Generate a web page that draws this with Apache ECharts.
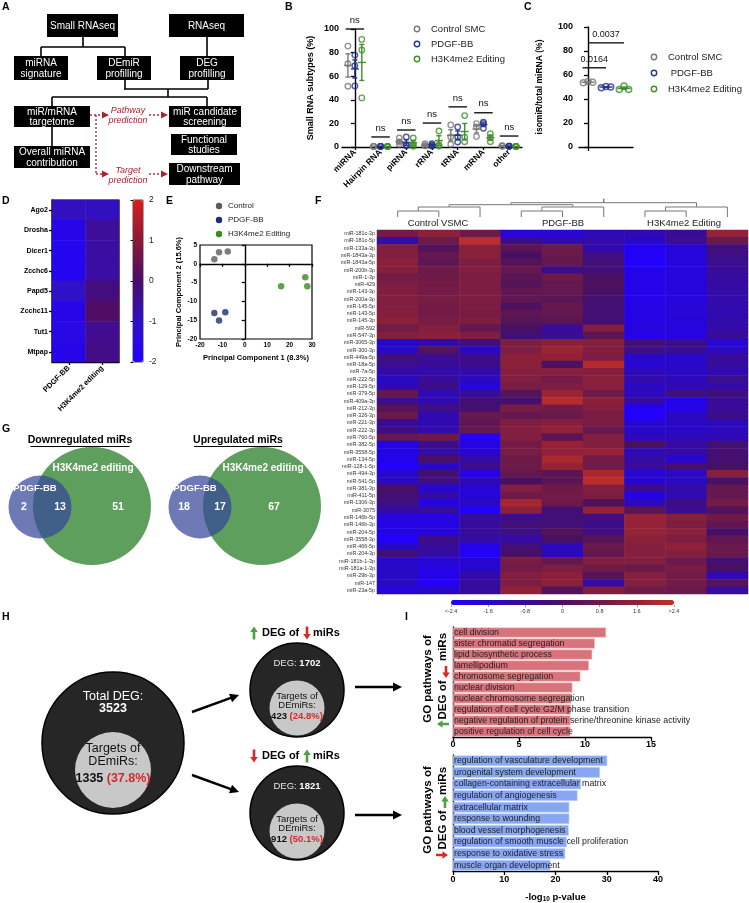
<!DOCTYPE html>
<html lang="en">
<head>
<meta charset="UTF-8">
<title>miRNA / DEG figure</title>
<script src="https://cdn.jsdelivr.net/npm/echarts@6/dist/echarts.min.js"></script>
<style>
  html, body { margin: 0; padding: 0; background: #fff; }
  #main { width: 749px; height: 903px; }
</style>
</head>
<body>
<div id="main"></div>
<script>
var FONT = '"Liberation Sans", Arial, Helvetica, sans-serif';

// B - small RNA subtypes (%)
var subtypes = ['miRNA', 'Hairpin RNA', 'piRNA', 'rRNA', 'tRNA', 'mRNA', 'other'];
var groupNames = ['Control SMC', 'PDGF-BB', 'H3K4me2 Editing'];
var ctrlB = [[85.5, 70.5, 51.5], [0.5, 0.5, 0.5], [7.6, 4.2, 2.3], [2.8, 1.0, 1.0], [18.7, 8.5, 2.3], [19.8, 17.0, 8.8], [0.8, 0.8, 0.8]];
var pdgfB = [[77.9, 68.8, 51.8], [0.5, 0.5, 0.5], [8.5, 2.0, 1.0], [2.8, 1.7, 0.8], [17.0, 8.5, 4.2], [21.0, 19.8, 15.9], [0.6, 0.6, 0.6]];
var h3kB = [[91.2, 82.2, 41.6], [0.4, 0.4, 0.4], [7.6, 2.3, 0.6], [13.6, 2.0, 0.8], [26.6, 8.2, 4.5], [11.3, 7.9, 4.5], [0.4, 0.4, 0.4]];
var nsLevelB = [100, 8.5, 14.4, 20.3, 34, 29, 9.3];

// C - isomiR / total miRNA (%)
var ctrlC = [53.6, 54.5, 53.9];
var pdgfC = [49.4, 50.5, 50.0];
var h3kC = [48.0, 50.8, 48.0];
var pBarsC = [['0.0164', -0.3, 1, 66], ['0.0037', 0, 2, 86.7]];

// D - miRNA machinery genes
var genesD = ['Ago2', 'Drosha', 'Dicer1', 'Zcchc6', 'Papd5', 'Zcchc11', 'Tut1', 'Mtpap'];
var colsD = ['PDGF-BB', 'H3K4me2 editing'];
var pdgfD = [-0.9, -1.6, -1.7, -1.7, -1.0, -1.6, -1.5, -1.6];
var h3kD = [-0.9, -0.5, -0.6, -0.6, -0.2, 0.1, -0.4, -0.3];

// E - PCA
var pcaCtrl = [[-13.6, 1.2], [-11.5, 3.1], [-7.6, 3.3]];
var pcaPdgf = [[-13.6, -13.1], [-11.5, -15.1], [-8.7, -12.9]];
var pcaH3k = [[16.2, -6.0], [27.0, -3.6], [27.9, -6.0]];

// F - DEmiR heatmap
var samplesF = ['C1', 'C2', 'C3', 'P1', 'P2', 'P3', 'H1', 'H2', 'H3'];
var mirsF = ['miR-181c-3p', 'miR-181c-5p', 'miR-133a-3p', 'miR-1843a-3p', 'miR-1843a-5p', 'miR-200b-3p', 'miR-1-3p', 'miR-429',
  'miR-143-3p', 'miR-200a-3p', 'miR-145-5p', 'miR-143-5p', 'miR-145-3p', 'miR-592', 'miR-547-3p', 'miR-3065-3p', 'miR-300-3p',
  'miR-449a-5p', 'miR-18a-5p', 'miR-7a-5p', 'miR-222-5p', 'miR-129-5p', 'miR-379-5p', 'miR-409a-3p', 'miR-212-3p', 'miR-326-3p',
  'miR-221-3p', 'miR-222-3p', 'miR-760-5p', 'miR-382-5p', 'miR-3558-5p', 'miR-134-5p', 'miR-128-1-5p', 'miR-494-3p', 'miR-541-5p',
  'miR-381-3p', 'miR-411-5p', 'miR-1306-3p', 'miR-3075', 'miR-146b-5p', 'miR-146b-3p', 'miR-204-5p', 'miR-3558-3p', 'miR-466-5p',
  'miR-204-3p', 'miR-181b-1-3p', 'miR-181a-1-3p', 'miR-29b-3p', 'miR-147', 'miR-23a-5p'];
var heatF = [
  [0.9, 1.4, 0.8, -1.8, -1.8, -1.3, -1.2, -0.8, 1.6],
  [-1.0, 0.8, 2.3, -0.6, -1.2, -1.1, -1.6, -0.7, 0.7],
  [1.2, 0.2, 1.4, 0.4, 0.8, -1.2, -2.2, -1.9, -0.4],
  [1.2, 0.6, 1.4, 0.0, 0.7, -0.5, -2.3, -1.9, -0.5],
  [1.4, 0.5, 1.1, 0.3, 0.6, -0.3, -2.4, -1.9, -0.7],
  [1.3, 0.8, 1.2, 0.6, -0.6, -0.3, -2.1, -1.9, -0.8],
  [0.9, 0.8, 1.1, 0.4, 0.8, 0.0, -2.1, -1.9, -0.9],
  [1.1, 0.9, 1.1, 0.3, 0.6, 0.1, -2.1, -1.9, -1.0],
  [1.2, 0.9, 1.1, 0.5, 0.6, 0.0, -2.1, -1.9, -1.0],
  [1.2, 1.0, 1.1, 0.5, 0.4, -0.2, -2.1, -1.9, -1.1],
  [1.2, 0.9, 1.1, 0.1, 0.6, -0.3, -2.0, -1.8, -1.1],
  [1.3, 0.9, 1.0, 0.5, 0.6, -0.2, -2.0, -1.8, -1.2],
  [1.4, 1.0, 1.1, 0.3, 0.4, -0.3, -2.0, -1.9, -1.1],
  [0.9, 1.2, 0.6, 0.0, -0.8, 1.2, -1.9, -1.9, -1.1],
  [1.2, 1.4, 1.1, -0.3, -0.7, 0.4, -2.1, -2.0, -0.8],
  [-1.6, -1.2, -0.4, 1.1, 1.4, 1.3, -0.3, -0.6, -1.8],
  [-1.6, 0.2, -1.6, 1.1, 1.7, 1.2, -0.5, -0.7, -1.5],
  [-0.4, -0.7, -0.6, 1.4, 1.5, 1.1, -1.6, -1.6, -0.8],
  [-0.7, -0.8, -0.6, 1.4, 0.1, 2.1, -1.7, -1.6, -0.9],
  [-1.0, -1.1, -1.0, 1.3, 1.3, 1.3, -1.4, -1.5, -1.2],
  [-1.5, -0.8, -1.5, 1.2, 0.9, 1.4, -1.1, -1.4, -0.7],
  [-1.3, -0.6, -1.9, 1.0, 1.1, 1.3, -1.5, -1.2, -1.0],
  [0.6, -1.3, -0.9, 0.3, 1.7, 0.8, -1.4, -0.5, -0.4],
  [-0.6, -1.2, -0.3, -0.2, 2.2, 1.4, -1.0, -2.1, -0.8],
  [0.3, -0.5, -0.2, 1.0, 0.9, 1.2, -2.2, -2.1, -0.8],
  [0.7, -1.2, 0.6, 0.6, 0.7, 1.0, -2.4, -1.5, -0.6],
  [-0.8, -1.2, 0.5, 1.1, 1.3, 1.0, -1.7, -1.5, -1.4],
  [-0.5, -1.1, 0.6, 1.2, 1.5, 0.6, -1.6, -1.6, -1.4],
  [0.6, 0.8, -2.2, 1.2, 0.4, 1.2, -1.4, -1.3, -1.3],
  [-2.0, -0.6, -2.0, 0.9, 1.6, 1.2, 0.0, -1.0, -0.3],
  [-2.0, -1.0, -1.7, 1.0, 1.5, 1.6, -1.3, -1.0, -0.2],
  [-2.1, 0.0, -1.1, 0.8, 2.0, 0.9, -1.0, -1.7, -0.2],
  [-2.3, -1.6, -0.6, 0.8, 1.6, 0.9, -0.8, -0.2, 0.0],
  [-1.7, -0.2, -2.0, 0.6, 0.4, 2.0, -1.7, -1.5, 1.3],
  [-1.5, -0.5, -1.3, 0.0, 0.4, 2.3, -1.7, -1.5, 0.0],
  [0.0, -1.7, -1.7, 1.2, 0.8, 1.2, -0.6, -1.1, 0.6],
  [-0.2, -1.1, -1.9, 0.8, 0.9, 1.1, -2.0, -1.2, 0.6],
  [-0.5, -2.0, -1.5, 1.9, 0.8, 0.1, -1.4, -0.6, 0.9],
  [-1.0, -0.9, -2.4, 1.4, -0.3, 1.6, 0.4, -0.7, 0.2],
  [-2.0, -2.0, -0.9, -0.6, -0.3, -0.4, 1.6, 1.3, 0.8],
  [-2.0, -2.0, -0.9, -0.3, -0.3, -0.6, 1.6, 1.1, 0.5],
  [-2.0, -1.9, -0.8, -0.5, 0.2, -0.4, 1.6, 1.4, -0.1],
  [-2.4, -0.6, -1.0, -1.0, 0.0, 0.3, 1.4, 1.1, 0.5],
  [-1.6, -0.8, -2.1, -0.3, -1.4, 0.7, 1.2, 1.5, 0.7],
  [-0.3, -1.0, -2.3, 0.0, -1.4, 0.6, 1.3, 1.2, 0.7],
  [-1.6, -1.8, -1.7, 1.0, 0.6, 1.2, 1.2, 0.7, -0.2],
  [-1.6, -2.0, -1.7, 0.9, 1.1, 0.8, 0.7, 1.0, 0.0],
  [-1.5, -2.1, -1.1, 1.2, 1.4, 0.3, 1.3, 0.9, -1.2],
  [-1.5, -2.3, -0.9, 1.1, 1.4, -1.0, 1.2, 0.9, 0.3],
  [-1.9, -1.6, -0.9, 1.5, 0.2, 1.2, 0.8, 0.7, -0.9]
];
// dendrogram merges: [nodeA, nodeB, height]; leaves are 0..8, new nodes numbered from 9
var dendroMerges = [[0, 1, 6], [9, 2, 10], [3, 4, 6], [11, 5, 10], [6, 7, 6], [13, 8, 10], [10, 12, 12.3], [15, 14, 14.3]];
var dendroTop = 18.3;

// G - venn counts [PDGF-BB only, shared, H3K4me2 only]
var vennDown = [2, 13, 51];
var vennUp = [18, 17, 67];

// H - DEG / target counts
var totalDEG = 3523, totalTargets = 1335, totalPct = '37.8%';
var upDEG = 1702, upTargets = 423, upPct = '24.8%';
var downDEG = 1821, downTargets = 912, downPct = '50.1%';

// I - GO pathways
var goUpLabels = ['cell division', 'sister chromatid segregation', 'lipid biosynthetic process', 'lamellipodium',
  'chromosome segregation', 'nuclear division', 'nuclear chromosome segregation',
  'regulation of cell cycle G2/M phase transition', 'negative regulation of protein serine/threonine kinase activity',
  'positive regulation of cell cycle'];
var goUpVals = [11.6, 10.75, 10.55, 10.3, 9.65, 9.05, 8.98, 8.93, 8.9, 8.9];
var goDownLabels = ['regulation of vasculature development', 'urogenital system development',
  'collagen-containing extracellular matrix', 'regulation of angiogenesis', 'extracellular matrix',
  'response to wounding', 'blood vessel morphogenesis', 'regulation of smooth muscle cell proliferation',
  'response to oxidative stress', 'muscle organ development'];
var goDownVals = [30.1, 28.7, 25.0, 24.3, 22.7, 22.7, 22.6, 22.2, 21.9, 19.0];

var colorsB = ['#7a7a7a', '#26358c', '#3e8e2a'];
var colorsE = ['#5c5c5c', '#1f2c78', '#3b8a1d'];
var RED = '#a8232d';
var UPG = '#4ca046', DNR = '#d42a2a';

// ---------- helpers ----------
function T(x, y, s, size, o) {
  o = o || {};
  return {
    type: 'text', x: x, y: y, rotation: o.rot || 0, silent: true, z: o.z || 10,
    style: {
      text: s, fontFamily: FONT, fontSize: size,
      fontWeight: o.bold ? 'bold' : 'normal', fontStyle: o.italic ? 'italic' : 'normal',
      fill: o.color || '#000', align: o.align || 'center', verticalAlign: o.va || 'middle',
      lineHeight: o.lh || Math.round(size * 1.1), rich: o.rich
    }
  };
}
function L(x1, y1, x2, y2, c, w, dash) {
  return { type: 'line', silent: true, z: 5, shape: { x1: x1, y1: y1, x2: x2, y2: y2 },
    style: { stroke: c || '#000', lineWidth: w || 1.5, lineDash: dash || null } };
}
function R(x, y, w, h, fill) {
  return { type: 'rect', silent: true, z: 4, shape: { x: x, y: y, width: w, height: h }, style: { fill: fill } };
}
function C(cx, cy, r, fill, stroke, lw, op) {
  return { type: 'circle', silent: true, z: 4, shape: { cx: cx, cy: cy, r: r },
    style: { fill: fill, stroke: stroke || null, lineWidth: lw || 0, opacity: op == null ? 1 : op } };
}
function head(x, y, ang, len, w, color) {
  var bx = x - len * Math.cos(ang), by = y - len * Math.sin(ang);
  var px = -Math.sin(ang) * w / 2, py = Math.cos(ang) * w / 2;
  return { type: 'polygon', silent: true, z: 6, shape: { points: [[x, y], [bx + px, by + py], [bx - px, by - py]] }, style: { fill: color } };
}
function arrow(x1, y1, x2, y2, color, w, hl, hw) {
  var ang = Math.atan2(y2 - y1, x2 - x1);
  return [L(x1, y1, x2 - hl * 0.8 * Math.cos(ang), y2 - hl * 0.8 * Math.sin(ang), color, w), head(x2, y2, ang, hl, hw, color)];
}
// thick block arrow centred on (cx, cy), pointing along ang
function blockArrow(cx, cy, ang, color, len) {
  len = len || 13;
  var hl = 5.5, hw = 7.5, sw = 2.6, h = len / 2;
  var pts = [[-h, -sw / 2], [h - hl, -sw / 2], [h - hl, -hw / 2], [h, 0], [h - hl, hw / 2], [h - hl, sw / 2], [-h, sw / 2]];
  var c = Math.cos(ang), s = Math.sin(ang);
  return { type: 'polygon', silent: true, z: 7,
    shape: { points: pts.map(function (p) { return [cx + p[0] * c - p[1] * s, cy + p[0] * s + p[1] * c]; }) },
    style: { fill: color } };
}
var UP = -Math.PI / 2, DOWN = Math.PI / 2, LEFT = Math.PI, RIGHT = 0;
function mean(a) { return a.reduce(function (s, v) { return s + v; }, 0) / a.length; }
function sem(a) {
  var m = mean(a);
  var v = a.reduce(function (s, x) { return s + (x - m) * (x - m); }, 0) / (a.length - 1);
  return Math.sqrt(v / a.length);
}

var G = [];

// panel letters
[['A', 2, 1], ['B', 285, 1], ['C', 524, 1], ['D', 2, 195], ['E', 166, 195], ['F', 315, 195], ['G', 2, 423], ['H', 2, 611], ['I', 405, 611]]
  .forEach(function (p) { G.push(T(p[1], p[2], p[0], 10.5, { bold: true, align: 'left', va: 'top' })); });

// ---------- A: workflow ----------
var boxesA = [
  [47, 14, 71, 23, 'Small RNAseq'], [169, 14, 75, 23, 'RNAseq'],
  [14, 56, 54, 24, 'miRNA\nsignature'], [97, 56, 54, 24, 'DEmiR\nprofilling'], [180, 56, 54, 24, 'DEG\nprofilling'],
  [14, 106, 76, 21, 'miR/mRNA\ntargetome'], [169, 106, 72, 21, 'miR candidate\nscreening'],
  [14, 146, 76, 22, 'Overall miRNA\ncontribution'], [171, 134, 66, 21, 'Functional\nstudies'],
  [169, 163, 71, 22, 'Downstream\npathway']
];
boxesA.forEach(function (b) {
  G.push(R(b[0], b[1], b[2], b[3], '#000'));
  G.push(T(b[0] + b[2] / 2, b[1] + b[3] / 2 + 0.5, b[4], 10, { color: '#fff', lh: 10.5 }));
});
[[83, 37, 83, 47], [41, 47, 125, 47], [41, 47, 41, 56], [125, 47, 125, 56], [207, 37, 207, 56],
 [125, 80, 125, 89], [124, 89, 208, 89], [208, 80, 208, 89], [168, 89, 168, 97], [52, 97, 207, 97],
 [52, 97, 52, 106], [207, 97, 207, 106], [52, 127, 52, 146]].forEach(function (l) {
  G.push(L(l[0], l[1], l[2], l[3], '#000', 1.6));
});
var dashA = [2, 2];
G.push(L(90, 115, 103, 115, RED, 1.4, dashA), head(109, 115, 0, 7, 7, RED));
G.push(L(96, 115, 96, 174, RED, 1.4, dashA), L(96, 174, 103, 174, RED, 1.4, dashA), head(109, 174, 0, 7, 7, RED));
G.push(L(149, 115, 162, 115, RED, 1.4, dashA), head(168, 115, 0, 7, 7, RED));
G.push(L(149, 174, 162, 174, RED, 1.4, dashA), head(168, 174, 0, 7, 7, RED));
G.push(T(128, 115.5, 'Pathway\nprediction', 9, { italic: true, color: RED, lh: 9.5 }));
G.push(T(128, 175.5, 'Target\nprediction', 9, { italic: true, color: RED, lh: 9.5 }));

// ---------- B & C legends ----------
groupNames.forEach(function (n, g) {
  G.push(C(417, 29 + g * 15, 2.7, 'none', colorsB[g], 1.4));
  G.push(T(431, 29 + g * 15, n, 9.5, { align: 'left', color: '#222' }));
});
['Control SMC', ' PDGF-BB', 'H3K4me2 Editing'].forEach(function (n, g) {
  G.push(C(654, 57 + g * 16, 2.7, 'none', colorsB[g], 1.4));
  G.push(T(668, 57 + g * 16, n, 9.5, { align: 'left', color: '#222' }));
});

// ---------- E legend ----------
['Control', 'PDGF-BB', 'H3K4me2 Editing'].forEach(function (n, g) {
  G.push(C(219, 206 + g * 14, 3.2, colorsE[g]));
  G.push(T(228, 206 + g * 14, n, 8, { align: 'left', color: '#222' }));
});

// ---------- F headers ----------
G.push(T(438, 223, 'Control VSMC', 9.5, { color: '#222' }));
G.push(T(563, 223, 'PDGF-BB', 9.5, { color: '#222' }));
G.push(T(684, 223, 'H3K4me2 Editing', 9.5, { color: '#222' }));

// ---------- G: venn diagrams ----------
function venn(tx, gx, bx, nx, title, counts) {
  G.push(T(tx, 440, title, 10.5, { bold: true }));
  var tw = title.length * 5.5;
  G.push(L(tx - tw / 2, 446.5, tx + tw / 2, 446.5, '#000', 1));
  G.push(C(gx, 506, 59, '#5e9f5e'));
  G.push(C(bx, 507, 31.5, '#34479a', null, 0, 0.72));
  G.push(T(gx + 1, 468, 'H3K4me2 editing', 10, { bold: true, color: '#fff' }));
  G.push(T(bx - 5, 488, 'PDGF-BB', 9.5, { bold: true, color: '#fff' }));
  G.push(T(bx - 16, 507, String(counts[0]), 10.5, { bold: true, color: '#fff' }));
  G.push(T(bx + 20, 507, String(counts[1]), 10.5, { bold: true, color: '#fff' }));
  G.push(T(nx, 507, String(counts[2]), 10.5, { bold: true, color: '#fff' }));
}
venn(80, 92, 40, 118, 'Downregulated miRs', vennDown);
venn(238, 262, 200, 274, 'Upregulated miRs', vennUp);

// ---------- H: DEG circles ----------
var pctRich = {
  n: { fontFamily: FONT, fontSize: 12.5, fontWeight: 'bold', fill: '#111' },
  r: { fontFamily: FONT, fontSize: 12.5, fontWeight: 'bold', fill: DNR },
  ns: { fontFamily: FONT, fontSize: 9.5, fontWeight: 'bold', fill: '#111' },
  rs: { fontFamily: FONT, fontSize: 9.5, fontWeight: 'bold', fill: DNR },
  w: { fontFamily: FONT, fontSize: 9.5, fill: '#e6e6e6' },
  wb: { fontFamily: FONT, fontSize: 9.5, fontWeight: 'bold', fill: '#fff' }
};
G.push(C(113, 743, 71, '#262626', '#000', 1.5));
G.push(C(113, 770, 38, '#c8c8c8'));
G.push(T(113, 697, 'Total DEG:', 12.5, { color: '#fff' }));
G.push(T(113, 709, String(totalDEG), 12.5, { color: '#fff', bold: true }));
G.push(T(113, 755, 'Targets of\nDEmiRs:', 12.5, { color: '#111', lh: 12.5 }));
G.push(T(113, 779, '{n|' + totalTargets + '} {r|(' + totalPct + ')}', 12.5, { rich: pctRich }));

function smallDEG(cy, up, deg, tg, pct) {
  var ty = cy - 57;
  G.push(blockArrow(254, ty, up ? UP : DOWN, up ? UPG : DNR));
  G.push(T(262, ty, 'DEG of', 11, { bold: true, align: 'left' }));
  G.push(blockArrow(307, ty, up ? DOWN : UP, up ? DNR : UPG));
  G.push(T(313, ty, 'miRs', 11, { bold: true, align: 'left' }));
  G.push(C(297, cy, 47, '#262626', '#000', 1.5));
  G.push(C(297, cy + 18, 27.5, '#c8c8c8'));
  G.push(T(297, cy - 27, '{w|DEG: }{wb|' + deg + '}', 9.5, { rich: pctRich }));
  G.push(T(297, cy + 11, 'Targets of\nDEmiRs:', 9.5, { color: '#111', lh: 9.5 }));
  G.push(T(297, cy + 26, '{ns|' + tg + '} {rs|(' + pct + ')}', 9.5, { rich: pctRich }));
}
smallDEG(690, true, upDEG, upTargets, upPct);
smallDEG(813, false, downDEG, downTargets, downPct);
G.push.apply(G, arrow(192, 712, 239, 695, '#000', 2.4, 9, 9));
G.push.apply(G, arrow(192, 775, 239, 792, '#000', 2.4, 9, 9));
G.push.apply(G, arrow(355, 687, 402, 687, '#000', 2.4, 9, 9));
G.push.apply(G, arrow(355, 815, 402, 815, '#000', 2.4, 9, 9));

// ---------- I: rotated titles ----------
var ROT = Math.PI / 2;
G.push(T(428, 679, 'GO pathways of', 11.5, { bold: true, rot: ROT }));
G.push(T(443, 700, 'DEG of', 11.5, { bold: true, rot: ROT }));
G.push(T(443, 647, 'miRs', 11.5, { bold: true, rot: ROT }));
G.push(blockArrow(443, 724, LEFT, UPG, 12));
G.push(blockArrow(446, 672, DOWN, DNR, 12));
G.push(T(428, 810, 'GO pathways of', 11.5, { bold: true, rot: ROT }));
G.push(T(443, 830, 'DEG of', 11.5, { bold: true, rot: ROT }));
G.push(T(443, 781, 'miRs', 11.5, { bold: true, rot: ROT }));
G.push(blockArrow(445, 802, UP, UPG, 12));
G.push(blockArrow(442, 855, RIGHT, DNR, 12));

// ---------- series ----------
var S = [];
var offB = [-0.27, 0, 0.27];
var setsB = [ctrlB, pdgfB, h3kB];

function errRender(half, cap) {
  return function (params, api) {
    var c = api.coord([api.value(0), api.value(1)]);
    var lo = api.coord([api.value(0), api.value(2)]);
    var hi = api.coord([api.value(0), api.value(3)]);
    var st = { stroke: api.visual('color'), lineWidth: 1.4, fill: null };
    return { type: 'group', children: [
      { type: 'line', shape: { x1: c[0] - half, y1: c[1], x2: c[0] + half, y2: c[1] }, style: st },
      { type: 'line', shape: { x1: lo[0], y1: lo[1], x2: hi[0], y2: hi[1] }, style: st },
      { type: 'line', shape: { x1: lo[0] - cap, y1: lo[1], x2: lo[0] + cap, y2: lo[1] }, style: st },
      { type: 'line', shape: { x1: hi[0] - cap, y1: hi[1], x2: hi[0] + cap, y2: hi[1] }, style: st }
    ] };
  };
}

setsB.forEach(function (set, g) {
  var pts = [];
  set.forEach(function (vals, i) { vals.forEach(function (v) { pts.push([i + offB[g], v]); }); });
  S.push({ type: 'scatter', name: groupNames[g], xAxisIndex: 1, yAxisIndex: 0, data: pts, symbol: 'circle', symbolSize: 5.5,
    itemStyle: { color: 'rgba(255,255,255,0)', borderColor: colorsB[g], borderWidth: 1.4 }, z: 3 });
});
setsB.forEach(function (set, g) {
  S.push({ type: 'custom', name: 'errB' + g, xAxisIndex: 1, yAxisIndex: 0, itemStyle: { color: colorsB[g] }, z: 4,
    renderItem: errRender(4, 2.5), encode: { x: 0, y: [1, 2, 3] },
    data: set.map(function (vals, i) { var m = mean(vals), e = sem(vals); return [i + offB[g], m, m - e, m + e]; }) });
});
S.push({ type: 'custom', name: 'nsB', xAxisIndex: 1, yAxisIndex: 0, z: 5, encode: { x: 0, y: 1 },
  data: nsLevelB.map(function (l, i) { return [i, l]; }),
  renderItem: function (params, api) {
    var a = api.coord([api.value(0) - 0.36, api.value(1)]), b = api.coord([api.value(0) + 0.36, api.value(1)]);
    return { type: 'group', children: [
      { type: 'line', shape: { x1: a[0], y1: a[1], x2: b[0], y2: b[1] }, style: { stroke: '#000', lineWidth: 1.3 } },
      { type: 'text', style: { text: 'ns', x: (a[0] + b[0]) / 2, y: a[1] - 9, align: 'center', verticalAlign: 'middle',
        fontFamily: FONT, fontSize: 9.5, fill: '#111' } }
    ] };
  } });

var jitterC = [-0.26, 0, 0.26];
var setsC = [ctrlC, pdgfC, h3kC];
setsC.forEach(function (set, g) {
  S.push({ type: 'scatter', name: 'C' + g, xAxisIndex: 3, yAxisIndex: 1, symbol: 'circle', symbolSize: 6, z: 3,
    itemStyle: { color: 'rgba(255,255,255,0)', borderColor: colorsB[g], borderWidth: 1.5 },
    data: set.map(function (v, k) { return [g + jitterC[k], v]; }) });
  S.push({ type: 'custom', name: 'errC' + g, xAxisIndex: 3, yAxisIndex: 1, itemStyle: { color: colorsB[g] }, z: 4,
    renderItem: errRender(6.5, 3), encode: { x: 0, y: [1, 2, 3] },
    data: [[g, mean(set), mean(set) - sem(set), mean(set) + sem(set)]] });
});
S.push({ type: 'custom', name: 'pC', xAxisIndex: 3, yAxisIndex: 1, z: 5, encode: { x: [0, 1], y: 2 },
  data: pBarsC.map(function (p) { return [p[1], p[2], p[3]]; }),
  renderItem: function (params, api) {
    var a = api.coord([api.value(0), api.value(2)]), b = api.coord([api.value(1), api.value(2)]);
    return { type: 'group', children: [
      { type: 'line', shape: { x1: a[0], y1: a[1], x2: b[0], y2: b[1] }, style: { stroke: '#000', lineWidth: 1.3 } },
      { type: 'text', style: { text: pBarsC[params.dataIndex][0], x: (a[0] + b[0]) / 2, y: a[1] - 8, align: 'center',
        verticalAlign: 'middle', fontFamily: FONT, fontSize: 9, fill: '#111' } }
    ] };
  } });

var dataD = [];
genesD.forEach(function (g, r) { dataD.push([0, r, pdgfD[r]], [1, r, h3kD[r]]); });
var idxD = S.length;
S.push({ type: 'heatmap', name: 'heatD', xAxisIndex: 4, yAxisIndex: 2, data: dataD, emphasis: { disabled: true } });

[pcaCtrl, pcaPdgf, pcaH3k].forEach(function (set, g) {
  S.push({ type: 'scatter', name: 'E' + g, xAxisIndex: 6, yAxisIndex: 4, data: set, symbolSize: 6.5,
    itemStyle: { color: colorsE[g] } });
});

// dendrogram from merges
var nodeX = samplesF.map(function (s, i) { return i; });
var nodeH = samplesF.map(function () { return 0; });
var dendroData = [];
dendroMerges.forEach(function (m) {
  dendroData.push([nodeX[m[0]], nodeX[m[1]], m[2], nodeH[m[0]], nodeH[m[1]]]);
  nodeX.push((nodeX[m[0]] + nodeX[m[1]]) / 2);
  nodeH.push(m[2]);
});
var rootN = nodeX.length - 1;
dendroData.push([nodeX[rootN], nodeX[rootN], dendroTop, nodeH[rootN], nodeH[rootN]]);
S.push({ type: 'custom', name: 'dendro', xAxisIndex: 7, yAxisIndex: 5, data: dendroData, encode: { x: [0, 1], y: [2, 3, 4] },
  renderItem: function (params, api) {
    var p1 = api.coord([api.value(0), api.value(3)]), p2 = api.coord([api.value(0), api.value(2)]);
    var p3 = api.coord([api.value(1), api.value(2)]), p4 = api.coord([api.value(1), api.value(4)]);
    return { type: 'polyline', shape: { points: [p1, p2, p3, p4] }, style: { stroke: '#777', lineWidth: 1, fill: null } };
  } });

var dataF = [];
heatF.forEach(function (row, r) { row.forEach(function (v, c) { dataF.push([c, r, v]); }); });
var idxF = S.length;
S.push({ type: 'heatmap', name: 'heatF', xAxisIndex: 8, yAxisIndex: 6, data: dataF, emphasis: { disabled: true } });

var barLabel = { show: true, position: 'insideLeft', distance: 1, formatter: '{b}', fontFamily: FONT, fontSize: 8.8, color: '#222' };
S.push({ type: 'bar', name: 'goUp', xAxisIndex: 10, yAxisIndex: 8, data: goUpVals, barCategoryGap: '8%',
  itemStyle: { color: '#d9737b', borderColor: '#f2c6c8', borderWidth: 0.6 }, label: barLabel });
S.push({ type: 'bar', name: 'goDown', xAxisIndex: 11, yAxisIndex: 9, data: goDownVals, barCategoryGap: '8%',
  itemStyle: { color: '#88a7f3', borderColor: '#c9d7fa', borderWidth: 0.6 }, label: barLabel });

// ---------- axes ----------
var AL = { show: true, lineStyle: { color: '#000', width: 1.4 } };
function TK(len, inside) { return { show: true, length: len, inside: !!inside, alignWithLabel: true, lineStyle: { color: '#000', width: 1.3 } }; }
var NOSPLIT = { show: false };
function LB(size, bold, extra) {
  var o = { fontFamily: FONT, fontSize: size, fontWeight: bold ? 'bold' : 'normal', color: '#000' };
  for (var k in extra) o[k] = extra[k];
  return o;
}
var HID = function (grid, type, mn, mx, data) {
  return { gridIndex: grid, type: type, min: mn, max: mx, data: data, show: false, splitLine: NOSPLIT };
};

var xAxes = [
  { gridIndex: 0, type: 'category', data: subtypes, axisLine: AL, axisTick: TK(3), splitLine: NOSPLIT,
    axisLabel: LB(8.5, true, { rotate: 45, interval: 0, margin: 4 }) },
  HID(0, 'value', -0.5, 6.5),
  { gridIndex: 1, type: 'category', data: groupNames, axisLine: AL, axisTick: TK(4), splitLine: NOSPLIT, axisLabel: { show: false } },
  HID(1, 'value', -0.5, 2.5),
  { gridIndex: 2, type: 'category', data: colsD, axisLine: AL, axisTick: TK(3), splitLine: NOSPLIT,
    axisLabel: LB(7.5, true, { rotate: 45, interval: 0, margin: 5 }) },
  HID(3, 'value', 0, 1),
  { gridIndex: 4, type: 'value', min: -20, max: 30, interval: 10, axisLine: AL, axisTick: TK(3), splitLine: NOSPLIT,
    axisLabel: LB(6.5, true, { margin: 3 }), name: 'Principal Component 1 (8.3%)', nameLocation: 'middle', nameGap: 15,
    nameTextStyle: LB(7.5, true) },
  HID(5, 'value', -0.5, 8.5),
  HID(6, 'category', null, null, samplesF),
  { gridIndex: 7, type: 'value', min: -2.4, max: 2.4, interval: 0.8, axisLine: { show: false }, splitLine: NOSPLIT,
    axisTick: { show: true, length: 2, lineStyle: { color: '#555', width: 0.6 } },
    axisLabel: LB(5.5, false, { margin: 3, color: '#333', formatter: function (v) {
      if (v <= -2.39) return '<-2.4'; if (v >= 2.39) return '>2.4'; return String(Math.round(v * 10) / 10);
    } }) },
  { gridIndex: 8, type: 'value', min: 0, max: 15, interval: 5, axisLine: AL, axisTick: TK(4), splitLine: NOSPLIT,
    axisLabel: LB(9, true, { margin: 3 }) },
  { gridIndex: 9, type: 'value', min: 0, max: 40, interval: 10, axisLine: AL, axisTick: TK(4), splitLine: NOSPLIT,
    axisLabel: LB(9, true, { margin: 4 }), name: '-log{s|10} p-value', nameLocation: 'middle', nameGap: 20,
    nameTextStyle: { fontFamily: FONT, fontSize: 9.5, fontWeight: 'bold', color: '#000',
      rich: { s: { fontFamily: FONT, fontSize: 6.5, fontWeight: 'bold', color: '#000', padding: [5, 0, 0, 0] } } } }
];

var yAxes = [
  { gridIndex: 0, type: 'value', min: 0, max: 100, interval: 20, axisLine: AL, axisTick: TK(4), splitLine: NOSPLIT,
    axisLabel: LB(9, true, { margin: 3 }), name: 'Small RNA subtypes (%)', nameLocation: 'middle', nameGap: 27,
    nameTextStyle: LB(9, true) },
  { gridIndex: 1, type: 'value', min: 0, max: 100, interval: 20, offset: 3, axisLine: AL, axisTick: TK(4), splitLine: NOSPLIT,
    axisLabel: LB(9, true, { margin: 3 }), name: 'isomiR/total miRNA (%)', nameLocation: 'middle', nameGap: 32,
    nameTextStyle: LB(8.5, true) },
  { gridIndex: 2, type: 'category', data: genesD, inverse: true, axisLine: AL, axisTick: TK(3), splitLine: NOSPLIT,
    axisLabel: LB(7, true, { margin: 4, interval: 0 }) },
  { gridIndex: 3, type: 'value', min: -2, max: 2, interval: 1, position: 'right', axisLine: { show: false },
    axisTick: { show: true, inside: true, length: 2.5, lineStyle: { color: '#000', width: 1 } }, splitLine: NOSPLIT,
    axisLabel: LB(8.5, false, { margin: 6, color: '#222' }) },
  { gridIndex: 4, type: 'value', min: -20, max: 5, interval: 5, axisLine: AL, axisTick: TK(3), splitLine: NOSPLIT,
    axisLabel: LB(6.5, true, { margin: 3 }), name: 'Principal Component 2 (15.6%)', nameLocation: 'middle', nameGap: 17,
    nameTextStyle: LB(7.5, true) },
  HID(5, 'value', 0, 21),
  { gridIndex: 6, type: 'category', data: mirsF, inverse: true, axisLine: { show: false }, axisTick: { show: false },
    splitLine: NOSPLIT, axisLabel: LB(5.4, false, { margin: 2, interval: 0, color: '#333' }) },
  HID(7, 'value', 0, 1),
  { gridIndex: 8, type: 'category', data: goUpLabels, inverse: true, axisLine: AL, axisTick: { show: false },
    axisLabel: { show: false }, splitLine: NOSPLIT },
  { gridIndex: 9, type: 'category', data: goDownLabels, inverse: true, axisLine: AL, axisTick: { show: false },
    axisLabel: { show: false }, splitLine: NOSPLIT }
];

var grids = [
  { left: 342, top: 29, width: 180, height: 118 },
  { left: 579, top: 27, width: 54, height: 120 },
  { left: 52, top: 200, width: 67, height: 162, show: true, borderColor: '#000', borderWidth: 1.2 },
  { left: 133, top: 200, width: 10, height: 162, show: true, borderColor: '#222', borderWidth: 0.8 },
  { left: 200, top: 245, width: 112, height: 94, show: true, borderColor: '#000', borderWidth: 1.2 },
  { left: 377, top: 196, width: 371, height: 21 },
  { left: 377, top: 230, width: 371, height: 364 },
  { left: 451, top: 600, width: 223, height: 5 },
  { left: 453, top: 627, width: 198, height: 110 },
  { left: 453, top: 755, width: 205, height: 116 }
];
grids.forEach(function (g) { g.containLabel = false; g.outerBoundsMode = 'none'; });

var chart = echarts.init(document.getElementById('main'));
chart.setOption({
  animation: false,
  backgroundColor: '#fff',
  textStyle: { fontFamily: FONT },
  tooltip: { show: false },
  grid: grids,
  xAxis: xAxes,
  yAxis: yAxes,
  visualMap: [
    { type: 'continuous', seriesIndex: idxD, min: -2, max: 2, orient: 'vertical', left: 133, top: 200,
      itemWidth: 10, itemHeight: 162, padding: 0, calculable: false, hoverLink: false, text: null,
      inRange: { color: ['#2000ff', '#3010c8', '#4a0b6a', '#8c1838', '#d61f1c'] } },
    { type: 'continuous', seriesIndex: idxF, min: -2.4, max: 2.4, orient: 'horizontal', left: 451, top: 600,
      itemWidth: 5, itemHeight: 223, padding: 0, calculable: false, hoverLink: false, text: null,
      inRange: { color: ['#2200ff', '#2808c8', '#380c98', '#481062', '#6e1a48', '#952236', '#c22e28'] } }
  ],
  graphic: { elements: G },
  series: S
});
</script>
</body>
</html>
